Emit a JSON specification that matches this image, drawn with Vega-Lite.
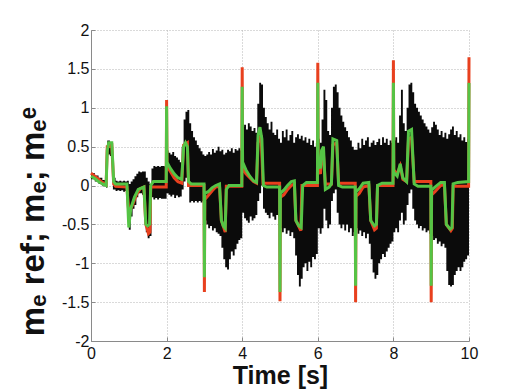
{
  "$schema": "https://vega.github.io/schema/vega-lite/v6.json",
  "width": 378,
  "height": 311,
  "autosize": "none",
  "padding": {"left": 91, "top": 30, "right": 49, "bottom": 51},
  "background": "white",
  "config": {
    "view": {"stroke": null},
    "font": "Liberation Sans",
    "axis": {
      "labelFont": "Liberation Sans",
      "labelFontSize": 16,
      "labelColor": "#111111",
      "domainColor": "#8a8a8a",
      "domainWidth": 1,
      "tickColor": "#8a8a8a",
      "tickSize": -4,
      "gridColor": "#b5b5b5",
      "gridDash": [1, 2],
      "gridWidth": 1,
      "titleFont": "Liberation Sans",
      "titleFontWeight": "bold",
      "titleColor": "#111111",
      "labelOverlap": false,
      "labelFlush": false,
      "labelBound": false
    }
  },
  "datasets": {
    "env": [
      {"t":0.00,"v":0.16,"lo":0.08},{"t":0.10,"v":0.13,"lo":0.05},{"t":0.20,"v":0.10,"lo":0.02},{"t":0.30,"v":0.07,"lo":-0.01},{"t":0.40,"v":0.05,"lo":-0.03},
      {"t":0.43,"v":0.58,"lo":0.40},{"t":0.50,"v":0.56,"lo":0.38},{"t":0.58,"v":0.10,"lo":-0.05},
      {"t":0.65,"v":0.06,"lo":-0.07},{"t":0.70,"v":0.05,"lo":-0.06},{"t":0.75,"v":0.06,"lo":-0.07},{"t":0.80,"v":0.05,"lo":-0.06},{"t":0.85,"v":0.06,"lo":-0.08},{"t":0.90,"v":0.05,"lo":-0.07},{"t":0.95,"v":0.06,"lo":-0.08},
      {"t":1.00,"v":0.02,"lo":-0.57},{"t":1.05,"v":0.05,"lo":-0.40},{"t":1.10,"v":0.08,"lo":-0.30},{"t":1.15,"v":0.12,"lo":-0.25},{"t":1.20,"v":0.15,"lo":-0.15},{"t":1.25,"v":0.18,"lo":-0.10},{"t":1.30,"v":0.17,"lo":-0.10},{"t":1.35,"v":0.18,"lo":-0.12},{"t":1.40,"v":0.18,"lo":-0.12},
      {"t":1.45,"v":0.10,"lo":-0.60},{"t":1.50,"v":0.05,"lo":-0.68},{"t":1.55,"v":0.02,"lo":-0.65},{"t":1.60,"v":0.22,"lo":-0.15},{"t":1.65,"v":0.25,"lo":-0.18},{"t":1.70,"v":0.24,"lo":-0.16},{"t":1.75,"v":0.25,"lo":-0.18},{"t":1.80,"v":0.24,"lo":-0.16},{"t":1.85,"v":0.25,"lo":-0.17},{"t":1.90,"v":0.25,"lo":-0.17},{"t":1.95,"v":0.24,"lo":-0.17},
      {"t":2.00,"v":0.45,"lo":-0.10},{"t":2.05,"v":0.42,"lo":-0.12},{"t":2.10,"v":0.40,"lo":-0.14},{"t":2.15,"v":0.43,"lo":-0.12},{"t":2.20,"v":0.38,"lo":-0.16},{"t":2.25,"v":0.36,"lo":-0.13},{"t":2.30,"v":0.33,"lo":-0.15},{"t":2.35,"v":0.30,"lo":-0.14},
      {"t":2.40,"v":0.50,"lo":-0.05},{"t":2.45,"v":0.85,"lo":0.05},{"t":2.50,"v":0.95,"lo":0.10},{"t":2.55,"v":0.97,"lo":0.10},{"t":2.60,"v":0.80,"lo":-0.22},{"t":2.65,"v":0.70,"lo":-0.20},{"t":2.70,"v":0.62,"lo":-0.22},{"t":2.75,"v":0.58,"lo":-0.20},{"t":2.80,"v":0.52,"lo":-0.22},{"t":2.85,"v":0.48,"lo":-0.20},{"t":2.90,"v":0.44,"lo":-0.22},{"t":2.95,"v":0.40,"lo":-0.20},
      {"t":3.00,"v":0.38,"lo":-0.45},{"t":3.05,"v":0.40,"lo":-0.50},{"t":3.10,"v":0.43,"lo":-0.55},{"t":3.15,"v":0.40,"lo":-0.52},{"t":3.20,"v":0.47,"lo":-0.58},{"t":3.25,"v":0.42,"lo":-0.55},{"t":3.30,"v":0.45,"lo":-0.60},{"t":3.35,"v":0.50,"lo":-0.62},{"t":3.40,"v":0.44,"lo":-0.65},
      {"t":3.45,"v":0.46,"lo":-0.80},{"t":3.50,"v":0.40,"lo":-0.95},{"t":3.55,"v":0.42,"lo":-1.05},{"t":3.60,"v":0.46,"lo":-1.08},{"t":3.65,"v":0.44,"lo":-0.95},{"t":3.70,"v":0.48,"lo":-0.85},{"t":3.75,"v":0.42,"lo":-0.90},{"t":3.80,"v":0.47,"lo":-0.82},{"t":3.85,"v":0.45,"lo":-0.75},{"t":3.90,"v":0.48,"lo":-0.70},{"t":3.95,"v":0.45,"lo":-0.68},
      {"t":4.00,"v":0.75,"lo":-0.35},{"t":4.05,"v":0.78,"lo":-0.42},{"t":4.10,"v":0.72,"lo":-0.45},{"t":4.15,"v":0.80,"lo":-0.48},{"t":4.20,"v":0.76,"lo":-0.40},{"t":4.25,"v":0.70,"lo":-0.45},{"t":4.30,"v":0.74,"lo":-0.42},{"t":4.35,"v":0.68,"lo":-0.38},
      {"t":4.40,"v":1.05,"lo":-0.20},{"t":4.45,"v":1.32,"lo":-0.10},{"t":4.50,"v":1.30,"lo":0.00},{"t":4.55,"v":1.00,"lo":-0.30},{"t":4.60,"v":0.88,"lo":-0.35},{"t":4.65,"v":0.80,"lo":-0.38},{"t":4.70,"v":0.72,"lo":-0.42},{"t":4.75,"v":0.82,"lo":-0.35},{"t":4.80,"v":0.68,"lo":-0.40},{"t":4.85,"v":0.65,"lo":-0.44},{"t":4.90,"v":0.72,"lo":-0.38},{"t":4.95,"v":0.60,"lo":-0.40},
      {"t":5.00,"v":0.55,"lo":-0.55},{"t":5.05,"v":0.70,"lo":-0.60},{"t":5.10,"v":0.62,"lo":-0.55},{"t":5.15,"v":0.72,"lo":-0.62},{"t":5.20,"v":0.58,"lo":-0.58},{"t":5.25,"v":0.65,"lo":-0.65},{"t":5.30,"v":0.70,"lo":-0.60},{"t":5.35,"v":0.55,"lo":-0.68},
      {"t":5.40,"v":0.62,"lo":-0.90},{"t":5.45,"v":0.66,"lo":-1.15},{"t":5.50,"v":0.60,"lo":-1.30},{"t":5.55,"v":0.64,"lo":-1.20},{"t":5.60,"v":0.58,"lo":-1.05},{"t":5.65,"v":0.62,"lo":-1.00},{"t":5.70,"v":0.55,"lo":-1.10},{"t":5.75,"v":0.60,"lo":-0.98},{"t":5.80,"v":0.52,"lo":-1.05},{"t":5.85,"v":0.58,"lo":-0.92},{"t":5.90,"v":0.50,"lo":-0.95},{"t":5.95,"v":0.55,"lo":-0.88},
      {"t":6.00,"v":0.60,"lo":-0.55},{"t":6.05,"v":0.55,"lo":-0.62},{"t":6.10,"v":0.85,"lo":-0.55},{"t":6.15,"v":1.23,"lo":-0.30},{"t":6.20,"v":1.10,"lo":-0.45},{"t":6.25,"v":0.70,"lo":-0.55},{"t":6.30,"v":0.65,"lo":-0.50},
      {"t":6.35,"v":1.00,"lo":-0.20},{"t":6.40,"v":1.27,"lo":-0.10},{"t":6.45,"v":1.30,"lo":-0.05},{"t":6.50,"v":1.20,"lo":-0.35},{"t":6.55,"v":1.00,"lo":-0.50},{"t":6.60,"v":0.90,"lo":-0.55},{"t":6.65,"v":0.82,"lo":-0.50},{"t":6.70,"v":0.75,"lo":-0.58},{"t":6.75,"v":0.70,"lo":-0.50},{"t":6.80,"v":0.62,"lo":-0.60},{"t":6.85,"v":0.58,"lo":-0.55},{"t":6.90,"v":0.50,"lo":-0.65},{"t":6.95,"v":0.46,"lo":-0.60},
      {"t":7.00,"v":0.46,"lo":-0.55},{"t":7.05,"v":0.55,"lo":-0.62},{"t":7.10,"v":0.48,"lo":-0.58},{"t":7.15,"v":0.60,"lo":-0.65},{"t":7.20,"v":0.52,"lo":-0.60},{"t":7.25,"v":0.58,"lo":-0.68},{"t":7.30,"v":0.62,"lo":-0.62},{"t":7.35,"v":0.50,"lo":-0.75},
      {"t":7.40,"v":0.55,"lo":-0.95},{"t":7.45,"v":0.58,"lo":-1.12},{"t":7.50,"v":0.52,"lo":-1.20},{"t":7.55,"v":0.56,"lo":-1.15},{"t":7.60,"v":0.60,"lo":-1.00},{"t":7.65,"v":0.52,"lo":-0.95},{"t":7.70,"v":0.62,"lo":-0.88},{"t":7.75,"v":0.55,"lo":-0.92},{"t":7.80,"v":0.60,"lo":-0.85},{"t":7.85,"v":0.52,"lo":-0.80},{"t":7.90,"v":0.58,"lo":-0.75},{"t":7.95,"v":0.55,"lo":-0.72},
      {"t":8.00,"v":0.58,"lo":-0.60},{"t":8.05,"v":0.62,"lo":-0.55},{"t":8.10,"v":0.55,"lo":-0.60},{"t":8.15,"v":0.90,"lo":-0.45},{"t":8.20,"v":1.23,"lo":-0.35},{"t":8.25,"v":0.80,"lo":-0.50},{"t":8.30,"v":0.70,"lo":-0.45},
      {"t":8.35,"v":1.00,"lo":-0.25},{"t":8.40,"v":1.30,"lo":-0.10},{"t":8.45,"v":1.32,"lo":-0.05},{"t":8.50,"v":1.20,"lo":-0.30},{"t":8.55,"v":1.05,"lo":-0.45},{"t":8.60,"v":1.00,"lo":-0.50},{"t":8.65,"v":0.95,"lo":-0.55},{"t":8.70,"v":0.90,"lo":-0.52},{"t":8.75,"v":0.85,"lo":-0.58},{"t":8.80,"v":0.80,"lo":-0.55},{"t":8.85,"v":0.76,"lo":-0.60},{"t":8.90,"v":0.72,"lo":-0.58},{"t":8.95,"v":0.68,"lo":-0.62},
      {"t":9.00,"v":0.75,"lo":-0.65},{"t":9.05,"v":0.82,"lo":-0.70},{"t":9.10,"v":0.78,"lo":-0.68},{"t":9.15,"v":0.72,"lo":-0.75},{"t":9.20,"v":0.65,"lo":-0.72},{"t":9.25,"v":0.70,"lo":-0.78},{"t":9.30,"v":0.62,"lo":-0.75},{"t":9.35,"v":0.68,"lo":-0.80},
      {"t":9.40,"v":0.60,"lo":-1.10},{"t":9.45,"v":0.66,"lo":-1.28},{"t":9.50,"v":0.72,"lo":-1.30},{"t":9.55,"v":0.76,"lo":-1.28},{"t":9.60,"v":0.65,"lo":-1.15},{"t":9.65,"v":0.70,"lo":-1.10},{"t":9.70,"v":0.62,"lo":-1.05},{"t":9.75,"v":0.66,"lo":-1.10},{"t":9.80,"v":0.58,"lo":-1.05},{"t":9.85,"v":0.62,"lo":-0.98},{"t":9.90,"v":0.56,"lo":-0.95},{"t":9.95,"v":0.60,"lo":-0.90},{"t":10.00,"v":0.60,"lo":-0.80}
    ],
    "red": [
      {"t":0.00,"v":0.16},{"t":0.10,"v":0.12},{"t":0.20,"v":0.08},{"t":0.30,"v":0.04},{"t":0.40,"v":0.01},{"t":0.43,"v":0.50},{"t":0.55,"v":0.52},{"t":0.60,"v":0.02},{"t":0.65,"v":-0.01},{"t":0.95,"v":-0.02},
      {"t":1.00,"v":-0.35},{"t":1.10,"v":-0.25},{"t":1.20,"v":-0.12},{"t":1.30,"v":-0.04},{"t":1.40,"v":-0.02},{"t":1.45,"v":-0.50},{"t":1.52,"v":-0.62},{"t":1.56,"v":-0.60},{"t":1.58,"v":-0.02},{"t":1.99,"v":-0.02},
      {"t":2.00,"v":1.10},{"t":2.01,"v":0.25},{"t":2.10,"v":0.18},{"t":2.20,"v":0.10},{"t":2.30,"v":0.05},{"t":2.40,"v":0.03},{"t":2.45,"v":0.52},{"t":2.55,"v":0.55},{"t":2.58,"v":0.00},{"t":2.99,"v":0.00},
      {"t":3.00,"v":-1.37},{"t":3.01,"v":-0.18},{"t":3.10,"v":-0.13},{"t":3.20,"v":-0.07},{"t":3.30,"v":-0.02},{"t":3.40,"v":-0.01},{"t":3.45,"v":-0.45},{"t":3.55,"v":-0.60},{"t":3.58,"v":-0.01},{"t":3.99,"v":-0.01},
      {"t":4.00,"v":1.52},{"t":4.01,"v":0.22},{"t":4.10,"v":0.15},{"t":4.20,"v":0.10},{"t":4.30,"v":0.05},{"t":4.38,"v":0.03},{"t":4.42,"v":0.55},{"t":4.50,"v":0.65},{"t":4.55,"v":0.03},{"t":4.99,"v":0.03},
      {"t":5.00,"v":-1.49},{"t":5.01,"v":-0.15},{"t":5.10,"v":-0.12},{"t":5.20,"v":-0.05},{"t":5.30,"v":0.00},{"t":5.38,"v":0.02},{"t":5.42,"v":-0.45},{"t":5.55,"v":-0.58},{"t":5.58,"v":0.00},{"t":5.99,"v":0.00},
      {"t":6.00,"v":1.58},{"t":6.01,"v":0.22},{"t":6.07,"v":0.15},{"t":6.10,"v":0.35},{"t":6.15,"v":0.40},{"t":6.20,"v":0.02},{"t":6.36,"v":0.02},{"t":6.40,"v":0.52},{"t":6.50,"v":0.55},{"t":6.55,"v":0.03},{"t":6.99,"v":0.03},
      {"t":7.00,"v":-1.50},{"t":7.01,"v":-0.14},{"t":7.10,"v":-0.10},{"t":7.20,"v":-0.02},{"t":7.35,"v":0.00},{"t":7.40,"v":-0.45},{"t":7.50,"v":-0.57},{"t":7.55,"v":-0.55},{"t":7.58,"v":0.00},{"t":7.99,"v":0.00},
      {"t":8.00,"v":1.61},{"t":8.01,"v":0.20},{"t":8.10,"v":0.15},{"t":8.18,"v":0.25},{"t":8.25,"v":0.08},{"t":8.35,"v":0.05},{"t":8.40,"v":0.60},{"t":8.48,"v":0.62},{"t":8.55,"v":0.05},{"t":8.99,"v":0.05},
      {"t":9.00,"v":-1.50},{"t":9.01,"v":-0.12},{"t":9.10,"v":-0.08},{"t":9.25,"v":0.00},{"t":9.35,"v":0.01},{"t":9.40,"v":-0.50},{"t":9.52,"v":-0.58},{"t":9.56,"v":-0.55},{"t":9.58,"v":-0.01},{"t":9.99,"v":-0.01},
      {"t":10.00,"v":1.65}
    ],
    "green": [
      {"t":0.00,"v":0.12},{"t":0.10,"v":0.09},{"t":0.20,"v":0.05},{"t":0.30,"v":0.02},{"t":0.40,"v":0.00},{"t":0.43,"v":0.45},{"t":0.47,"v":0.55},{"t":0.55,"v":0.55},{"t":0.60,"v":0.05},{"t":0.65,"v":0.02},{"t":0.95,"v":0.02},
      {"t":1.00,"v":-0.54},{"t":1.05,"v":-0.30},{"t":1.15,"v":-0.15},{"t":1.25,"v":-0.05},{"t":1.40,"v":-0.02},{"t":1.45,"v":-0.50},{"t":1.50,"v":-0.52},{"t":1.55,"v":-0.50},{"t":1.58,"v":0.00},{"t":1.65,"v":0.05},{"t":1.99,"v":0.05},
      {"t":2.00,"v":1.02},{"t":2.01,"v":0.30},{"t":2.10,"v":0.22},{"t":2.20,"v":0.15},{"t":2.30,"v":0.10},{"t":2.40,"v":0.08},{"t":2.45,"v":0.50},{"t":2.50,"v":0.55},{"t":2.55,"v":0.50},{"t":2.58,"v":0.05},{"t":2.65,"v":0.02},{"t":2.99,"v":0.02},
      {"t":3.00,"v":-1.18},{"t":3.01,"v":-0.10},{"t":3.10,"v":-0.08},{"t":3.20,"v":-0.03},{"t":3.30,"v":0.00},{"t":3.40,"v":0.02},{"t":3.45,"v":-0.45},{"t":3.50,"v":-0.52},{"t":3.55,"v":-0.55},{"t":3.58,"v":-0.05},{"t":3.65,"v":0.00},{"t":3.99,"v":0.00},
      {"t":4.00,"v":1.27},{"t":4.01,"v":0.30},{"t":4.10,"v":0.20},{"t":4.20,"v":0.12},{"t":4.30,"v":0.06},{"t":4.38,"v":0.04},{"t":4.42,"v":0.65},{"t":4.47,"v":0.75},{"t":4.52,"v":0.60},{"t":4.56,"v":0.00},{"t":4.65,"v":-0.02},{"t":4.99,"v":-0.02},
      {"t":5.00,"v":-1.37},{"t":5.01,"v":-0.10},{"t":5.10,"v":-0.06},{"t":5.20,"v":0.00},{"t":5.30,"v":0.05},{"t":5.38,"v":0.06},{"t":5.42,"v":-0.45},{"t":5.50,"v":-0.52},{"t":5.56,"v":-0.54},{"t":5.60,"v":0.00},{"t":5.70,"v":0.04},{"t":5.99,"v":0.04},
      {"t":6.00,"v":1.32},{"t":6.01,"v":0.30},{"t":6.07,"v":0.22},{"t":6.10,"v":0.45},{"t":6.15,"v":0.50},{"t":6.20,"v":-0.05},{"t":6.30,"v":-0.02},{"t":6.36,"v":0.02},{"t":6.40,"v":0.60},{"t":6.50,"v":0.58},{"t":6.55,"v":0.00},{"t":6.65,"v":-0.02},{"t":6.99,"v":-0.02},
      {"t":7.00,"v":-1.29},{"t":7.01,"v":-0.08},{"t":7.10,"v":-0.04},{"t":7.20,"v":0.03},{"t":7.35,"v":0.04},{"t":7.40,"v":-0.45},{"t":7.50,"v":-0.52},{"t":7.55,"v":-0.50},{"t":7.58,"v":0.00},{"t":7.70,"v":0.03},{"t":7.99,"v":0.03},
      {"t":8.00,"v":1.32},{"t":8.01,"v":0.17},{"t":8.10,"v":0.12},{"t":8.18,"v":0.28},{"t":8.25,"v":0.10},{"t":8.35,"v":0.05},{"t":8.40,"v":0.70},{"t":8.48,"v":0.72},{"t":8.55,"v":0.02},{"t":8.65,"v":-0.01},{"t":8.99,"v":-0.01},
      {"t":9.00,"v":-1.29},{"t":9.01,"v":-0.06},{"t":9.10,"v":-0.02},{"t":9.25,"v":0.04},{"t":9.35,"v":0.04},{"t":9.40,"v":-0.50},{"t":9.50,"v":-0.56},{"t":9.55,"v":-0.54},{"t":9.58,"v":0.02},{"t":9.70,"v":0.04},{"t":9.99,"v":0.05},
      {"t":10.00,"v":1.32}
    ]
  },
  "encoding": {
    "x": {
      "field": "t", "type": "quantitative",
      "scale": {"domain": [0, 10], "nice": false, "zero": false},
      "axis": {
        "values": [0, 2, 4, 6, 8, 10],
        "title": "Time [s]",
        "titleFontSize": 25,
        "titleBaseline": "alphabetic",
        "titleY": 42,
        "labelPadding": 8,
        "labelExpr": "'' + datum.value"
      }
    },
    "y": {
      "field": "v", "type": "quantitative",
      "scale": {"domain": [-2, 2], "nice": false, "zero": false},
      "axis": {
        "values": [-2, -1.5, -1, -0.5, 0, 0.5, 1, 1.5, 2],
        "title": "mₑ ref; mₑ; mₑᵉ",
        "titleFontSize": 33,
        "titleAngle": -90,
        "titleBaseline": "alphabetic",
        "titleX": -48,
        "titleY": 191,
        "labelPadding": 6,
        "labelExpr": "'' + datum.value"
      }
    }
  },
  "layer": [
    {
      "data": {"name": "env"},
      "mark": {"type": "area", "color": "#0b0b0b", "interpolate": "step-after"},
      "encoding": {"y2": {"field": "lo"}}
    },
    {
      "data": {"name": "red"},
      "mark": {"type": "line", "color": "#e8401e", "strokeWidth": 3}
    },
    {
      "data": {"name": "green"},
      "mark": {"type": "line", "color": "#55c445", "strokeWidth": 3}
    }
  ]
}
